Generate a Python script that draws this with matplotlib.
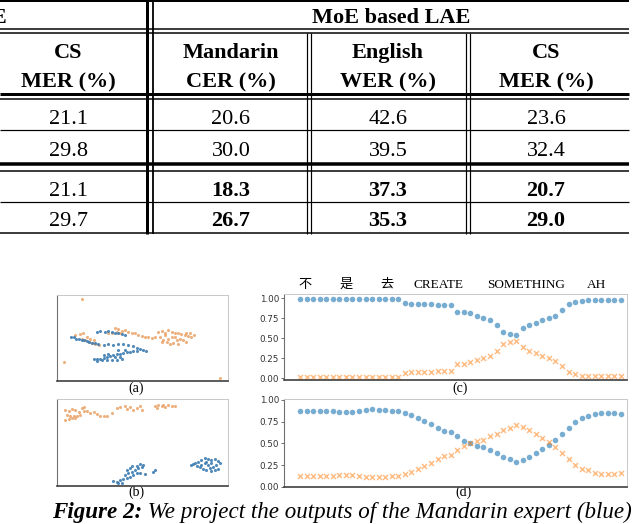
import matplotlib
matplotlib.use('Agg')
import matplotlib.pyplot as plt
import numpy as np

# ---------------- table data ----------------
group_header = "MoE based LAE"
left_header_tail = "LAE"
col_headers_top = ["CS", "Mandarin", "English", "CS"]
col_headers_bot = ["MER (%)", "CER (%)", "WER (%)", "MER (%)"]
row_values = [
    ["21.1", "20.6", "42.6", "23.6"],
    ["29.8", "30.0", "39.5", "32.4"],
    ["21.1", "18.3", "37.3", "20.7"],
    ["29.7", "26.7", "35.3", "29.0"],
]
row_bold = [
    [False, False, False, False],
    [False, False, False, False],
    [False, True, True, True],
    [False, True, True, True],
]

# ---------------- scatter (a) ----------------
a_orange_x = [14.6, 4.3, 95.1,
              10.7, 13.2, 15.1, 17.5, 19.4, 21.4, 20.4, 22.3, 24.3, 19.0, 16.5, 14.6,
              34.0, 35.9, 37.9, 39.8, 41.7, 43.7, 45.6, 47.6, 49.5, 51.5, 53.4, 55.3, 57.3, 35.0, 36.9, 32.0, 30.1,
              59.2, 61.2, 63.1, 65.0, 67.0, 68.9, 70.9, 72.8, 74.8, 76.7, 78.6, 80.0, 77.7, 75.7, 60.2, 62.1, 64.1,
              66.0, 68.0, 69.9, 71.8, 73.8, 75.7, 67.0, 65.0, 68.9, 63.1, 61.2, 70.9]
a_orange_y = [95.3, 22.6, 3.5,
              53.3, 54.5, 55.3, 51.4, 49.4, 48.2, 44.4, 42.8, 41.6, 45.5, 47.5, 49.4,
              61.1, 59.9, 58.4, 59.1, 57.2, 56.0, 55.3, 53.3, 52.1, 51.4, 50.6, 50.2, 51.4, 57.2, 56.0, 55.3, 56.0,
              57.2, 58.4, 56.0, 59.1, 57.2, 55.3, 56.0, 54.5, 53.3, 52.1, 51.4, 53.3, 56.0, 55.3, 51.4, 48.2, 45.5,
              43.6, 44.4, 47.5, 49.4, 47.5, 45.5, 51.4, 49.4, 51.4, 53.3, 45.5, 43.6]
a_blue_x = [8.2, 9.7, 11.3, 12.8, 14.4, 15.9, 17.5, 19.0, 20.6, 22.1, 23.7,
            23.3, 25.2, 28.2, 30.1, 32.0, 34.0, 35.9, 37.9, 39.8,
            27.2, 30.1, 33.0, 35.9, 38.8, 41.7, 44.7, 46.6, 48.5, 50.5, 52.0,
            21.4, 23.3, 25.2, 27.2, 29.1, 31.1, 33.0, 35.0, 36.9, 38.8, 40.8, 42.7, 44.7, 46.6,
            23.3, 26.2, 29.1, 32.0, 35.0, 37.9, 36.9, 34.0, 30.1, 27.2, 35.9, 39.8]
a_blue_y = [51.4, 50.6, 49.4, 48.6, 47.9, 47.1, 46.3, 45.5, 44.7, 44.4, 43.6,
            57.2, 57.6, 56.8, 57.6, 56.4, 56.0, 55.3, 54.5, 53.3,
            42.4, 42.8, 42.4, 42.8, 43.2, 41.6, 40.5, 38.9, 37.7, 35.8, 35.0,
            26.1, 25.3, 26.1, 26.8, 28.0, 28.8, 30.0, 31.1, 31.9, 32.7, 33.5, 33.9, 34.6, 35.0,
            23.3, 24.1, 24.1, 24.1, 24.9, 26.1, 28.0, 28.0, 31.9, 30.0, 35.8, 36.6]

# ---------------- scatter (b) ----------------
b_orange_x = [4.9, 6.8, 8.7, 10.7, 5.8, 7.8, 9.7, 11.7, 13.6, 4.9, 6.8, 8.7, 10.7, 14.6, 15.5,
              17.5, 19.4, 21.4, 23.3, 25.2, 27.2, 29.1, 32.0, 35.0, 36.9, 39.8, 41.2, 42.7, 44.7,
              46.6, 48.5, 49.5, 57.3, 59.2, 61.2, 63.1, 65.0, 67.0, 68.9, 58.3, 62.1, 15.5, 12.6]
b_orange_y = [87.7, 85.8, 88.5, 86.9, 81.9, 80.8, 80.0, 80.8, 81.9, 76.2, 76.9, 77.7, 78.5, 89.6, 90.8,
              85.8, 83.8, 84.6, 83.1, 80.8, 80.0, 80.8, 83.8, 89.6, 90.8, 91.5, 88.5, 90.8, 87.7,
              89.6, 91.5, 87.7, 91.5, 93.5, 92.3, 90.8, 93.5, 91.5, 92.3, 89.6, 93.5, 85.8, 84.6]
b_blue_x = [33.0, 35.0, 36.9, 38.8, 40.8, 39.8, 41.7, 43.7, 45.6, 47.6, 49.5, 50.5, 42.7, 44.7,
            46.6, 48.5, 51.5, 56.3, 57.3, 35.9, 37.9, 43.7, 46.6, 48.5, 40.8, 42.7,
            78.6, 80.6, 82.5, 84.5, 86.4, 88.3, 90.3, 92.2, 94.2, 95.1, 93.2, 91.3, 89.3, 87.4,
            85.4, 83.5, 81.6, 79.6, 86.4, 88.3, 90.3, 87.4, 84.5, 92.2, 94.2, 90.3]
b_blue_y = [6.2, 5.0, 6.9, 7.7, 8.8, 12.7, 14.6, 16.5, 18.5, 20.4, 22.3, 24.2, 10.8, 12.7,
            14.6, 15.4, 13.8, 16.5, 18.5, 3.8, 3.8, 23.1, 23.1, 25.4, 18.5, 20.4,
            24.2, 26.2, 28.1, 30.0, 31.9, 30.8, 30.0, 30.8, 29.2, 26.2, 24.2, 22.3, 20.4, 18.5,
            19.2, 22.3, 23.1, 25.4, 26.2, 24.2, 26.2, 28.1, 24.2, 18.5, 19.2, 17.7]

# ---------------- expert weights (c) and (d) ----------------
c_mandarin = [0.99] * 16 + [0.94, 0.92, 0.92, 0.92, 0.92, 0.91, 0.91, 0.91,
              0.83, 0.83, 0.81, 0.78, 0.75, 0.72, 0.66, 0.58, 0.55, 0.54,
              0.62, 0.66, 0.69, 0.72, 0.75, 0.78, 0.85, 0.93, 0.95, 0.96, 0.97, 0.97, 0.97, 0.97, 0.97, 0.97]
c_english = [0.01] * 16 + [0.06, 0.08, 0.08, 0.08, 0.08, 0.09, 0.09, 0.09,
             0.17, 0.17, 0.20, 0.22, 0.25, 0.28, 0.34, 0.42, 0.45, 0.46,
             0.39, 0.34, 0.31, 0.28, 0.25, 0.21, 0.15, 0.07, 0.05, 0.03, 0.03, 0.03, 0.03, 0.03, 0.03, 0.03]
d_mandarin = [0.87, 0.87, 0.87, 0.87, 0.87, 0.87, 0.86, 0.86, 0.86, 0.87, 0.88, 0.89, 0.88, 0.88, 0.87, 0.87,
              0.85, 0.83, 0.79, 0.76, 0.72, 0.68, 0.64, 0.63, 0.58, 0.53,
              0.50, 0.47, 0.46, 0.42, 0.39, 0.35, 0.32, 0.29, 0.31, 0.35,
              0.39, 0.44, 0.48, 0.54, 0.61, 0.68, 0.75, 0.79, 0.81, 0.84,
              0.85, 0.85, 0.85, 0.84]
d_english = [0.13, 0.13, 0.13, 0.13, 0.13, 0.13, 0.14, 0.14, 0.14, 0.13, 0.12, 0.11, 0.12, 0.12, 0.13, 0.13,
             0.15, 0.17, 0.21, 0.24, 0.28, 0.32, 0.36, 0.37, 0.42, 0.47,
             0.50, 0.53, 0.54, 0.58, 0.61, 0.65, 0.68, 0.71, 0.69, 0.65,
             0.61, 0.56, 0.52, 0.46, 0.39, 0.32, 0.25, 0.21, 0.19, 0.16,
             0.15, 0.15, 0.15, 0.16]
words = ["不", "是", "去", "CREATE", "SOMETHING", "AH"]
word_pos = [0.8, 7.0, 13.3, 21.1, 34.5, 45.2]
yticks = [0.0, 0.25, 0.5, 0.75, 1.0]

caption_bold = "Figure 2:"
caption_rest = " We project the outputs of the Mandarin expert (blue)"

# ---------------- figure ----------------
W, H = 640, 524
fig = plt.figure(figsize=(W / 100, H / 100), dpi=100)
bg = fig.add_axes([0, 0, 1, 1])
bg.set_xlim(0, W)
bg.set_ylim(H, 0)
bg.axis('off')

serif = ['Liberation Serif', 'DejaVu Serif']
PX = 0.72  # points per pixel


def hline(y, x0, x1, w):
    bg.plot([x0, x1], [y, y], color='black', lw=w * PX, solid_capstyle='butt')


def vline(x, y0, y1, w):
    bg.plot([x, x], [y0, y1], color='black', lw=w * PX, solid_capstyle='butt')


RIGHT = 629
hline(1, 0, RIGHT, 2)
hline(29, 0, RIGHT, 1.5)
hline(32.5, 0, RIGHT, 1.5)
hline(93.5, 0, RIGHT, 3)
hline(98.5, 0, RIGHT, 1.5)
hline(130, 0, RIGHT, 1.2)
hline(164, 0, RIGHT, 3.5)
hline(170.5, 0, RIGHT, 1.5)
hline(202, 0, RIGHT, 1.2)
hline(233, 0, RIGHT, 1.5)
vline(146.5, 0, 234, 3)
vline(152.5, 0, 234, 1.8)
vline(307, 32.5, 234, 1.2)
vline(311, 32.5, 234, 1.2)
vline(466, 32.5, 234, 1.2)
vline(470, 32.5, 234, 1.2)

col_x = [68, 231, 388, 546]
bg.text(7, 23, left_header_tail, ha='right', va='baseline', fontsize=16,
        fontweight='bold', family=serif)
bg.text(391, 23, group_header, ha='center', va='baseline', fontsize=16,
        fontweight='bold', family=serif)
for cx, t1, t2 in zip(col_x, col_headers_top, col_headers_bot):
    bg.text(cx, 58, t1, ha='center', va='baseline', fontsize=16, fontweight='bold', family=serif)
    bg.text(cx, 87, t2, ha='center', va='baseline', fontsize=16, fontweight='bold', family=serif)
row_base = [124.5, 156.5, 196.5, 226.5]
for ry, vals, bolds in zip(row_base, row_values, row_bold):
    for cx, v, b in zip(col_x, vals, bolds):
        bg.text(cx, ry, v, ha='center', va='baseline', fontsize=16,
                fontweight='bold' if b else 'normal', family=serif)


def fbox(x0, y0, x1, y1):
    return [x0 / W, 1 - y1 / H, (x1 - x0) / W, (y1 - y0) / H]


def style_spines(ax):
    for s in ['top', 'right']:
        ax.spines[s].set_color('#c8c8c8')
        ax.spines[s].set_linewidth(0.7)
    ax.spines['left'].set_color('#707070')
    ax.spines['left'].set_linewidth(0.8)
    ax.spines['bottom'].set_color('#404040')
    ax.spines['bottom'].set_linewidth(1.2)


ORANGE_S = '#e9a468'
BLUE_S = '#3f7fb3'

for box, ox, oy, bx, by, lab, ly in [
        ((57, 295, 228, 381), a_orange_x, a_orange_y, a_blue_x, a_blue_y, '(a)', 388),
        ((57, 399, 228, 486), b_orange_x, b_orange_y, b_blue_x, b_blue_y, '(b)', 492)]:
    ax = fig.add_axes(fbox(*box))
    ax.scatter(ox, oy, s=5, color=ORANGE_S, alpha=0.85, linewidths=0)
    ax.scatter(bx, by, s=5, color=BLUE_S, alpha=0.9, linewidths=0)
    ax.set_xlim(0, 100)
    ax.set_ylim(0, 100)
    ax.set_xticks([])
    ax.set_yticks([])
    style_spines(ax)
    bg.text(136, ly, lab, ha='center', va='center', fontsize=10, family=serif)

N = len(c_mandarin)
idx = np.arange(N)
unit = 321 / (N - 1)
xlim = (-16 / unit, (N - 1) + 6 / unit)

for box, man, eng, ylim, lab, lx, ly in [
        ((284, 294, 627, 380), c_mandarin, c_english, (-0.025, 1.05), '(c)', 460, 388),
        ((284, 399, 627, 487), d_mandarin, d_english, (0.0, 1.01), '(d)', 464, 492)]:
    ax = fig.add_axes(fbox(*box))
    ax.plot(idx, man, 'o', ms=4.0, color='#1f77b4', alpha=0.6, mec='none')
    ax.plot(idx, eng, 'x', ms=3.6, mew=1.1, color='#ff7f0e', alpha=0.5)
    ax.set_xlim(*xlim)
    ax.set_ylim(*ylim)
    ax.set_xticks([])
    ax.set_yticks(yticks)
    ax.set_yticklabels([f"{t:.2f}" for t in yticks])
    ax.tick_params(axis='y', labelsize=6.3, length=2, width=0.5, pad=1.5, colors='#333333')
    style_spines(ax)
    bg.text(lx, ly, lab, ha='center', va='center', fontsize=10, family=serif)
    if lab == '(c)':
        trans = matplotlib.transforms.blended_transform_factory(ax.transData, bg.transData)
        for wd, wp in zip(words, word_pos):
            ax.text(wp, 285, wd, transform=trans, ha='center', va='center', fontsize=9.5,
                    family=['Liberation Serif', 'Noto Sans CJK SC'], clip_on=False)

t1 = bg.text(52, 518, caption_bold, ha='left', va='baseline', fontsize=16.6,
             fontweight='bold', fontstyle='italic', family=serif)
bg.annotate(caption_rest, xy=(1, 0), xycoords=t1, va='bottom', ha='left',
            fontsize=16.6, fontstyle='italic', family=serif)

fig.savefig('out.png', dpi=100)
